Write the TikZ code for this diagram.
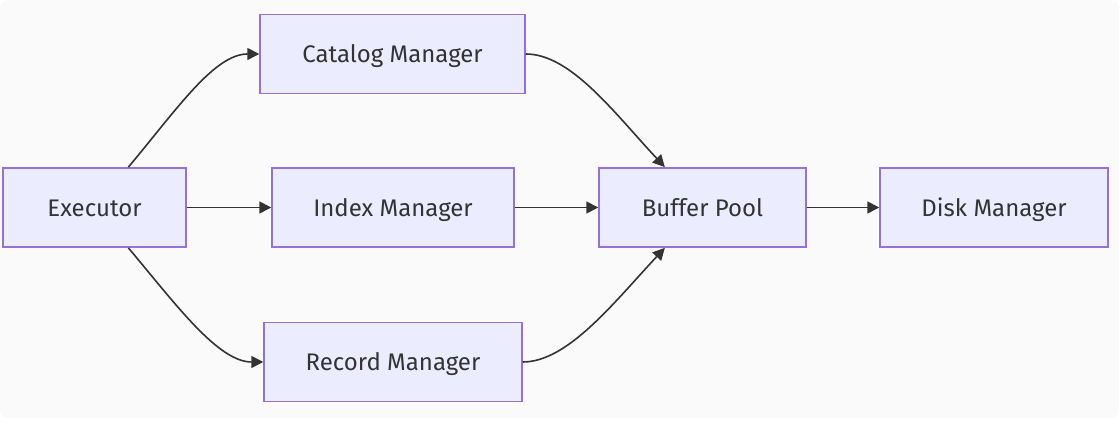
\documentclass[tikz,border=0pt]{standalone}
\usepackage{fontspec}
\setmainfont{Fira Sans}
\usetikzlibrary{arrows.meta}

\definecolor{bgcol}{HTML}{FAFAFA}
\definecolor{boxfill}{HTML}{ECECFF}
\definecolor{boxline}{HTML}{9370DB}
\definecolor{inkcol}{HTML}{333333}

\tikzset{
	stage/.style={draw=boxline,fill=boxfill,line width=1.1pt,minimum height=59.5pt,
		text=inkcol,font=\fontsize{18}{21}\selectfont,inner sep=0pt,
		text height=13.5pt,text depth=0pt},
	flow/.style={draw=inkcol,line width=1.2pt,->}
}

\begin{document}
\begin{tikzpicture}[x=0.75pt,y=0.75pt,>={Triangle[length=9pt,width=9pt]}]
	
	\useasboundingbox (0,0) rectangle (1119,423);
	\fill[bgcol,rounded corners=6pt] (0,5) rectangle (1119,423);
	
	\node[stage,minimum width=198.75pt] (cat) at (392.5,369){Catalog Manager};
	
	\node[stage,minimum width=137.25pt] (exec) at (94.5,215.5){Executor};
	
	\node[stage,minimum width=181.5pt] (idx) at (393,215.5){Index Manager};
	
	\node[stage,minimum width=193.5pt] (rec) at (393,61){Record Manager};
	
	\node[stage,minimum width=155.25pt] (buf) at (702.5,215.5){Buffer Pool};
	
	\node[stage,minimum width=171pt] (disk) at (994,215.5){Disk Manager};
	
	% executor fans out
	\draw[flow] (exec.50) .. controls +(50:75) and +(-45,0) .. (cat.west);
	\draw[flow] (exec.east) -- (idx.west);
	\draw[flow] (exec.-50) .. controls +(-50:75) and +(-45,0) .. (rec.west);
	
	% managers into the buffer pool
	\draw[flow] (cat.east) .. controls +(45,0) and +(133:75) .. (buf.133);
	\draw[flow] (idx.east) -- (buf.west);
	\draw[flow] (rec.east) .. controls +(45,0) and +(-133:75) .. (buf.-133);
	
	\draw[flow] (buf.east) -- (disk.west);
	
\end{tikzpicture}
\end{document}
